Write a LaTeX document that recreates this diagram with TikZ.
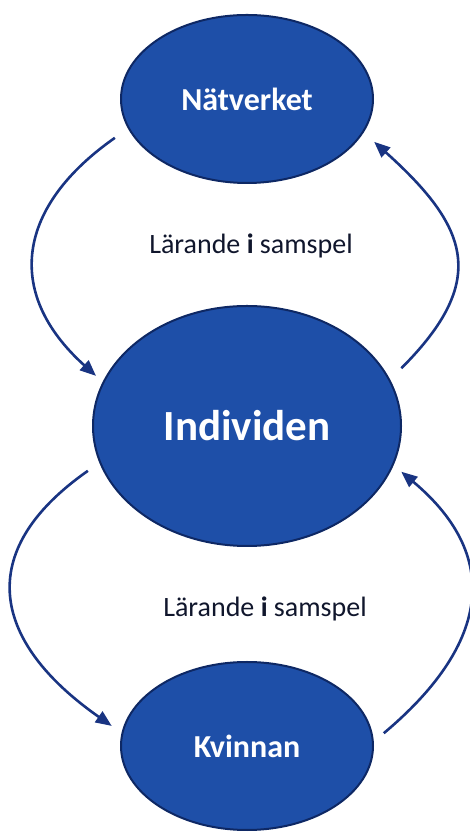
\documentclass[tikz,border=0pt]{standalone}
\usepackage{fontspec}
\setmainfont{Carlito}
\usetikzlibrary{positioning,shapes.geometric,arrows.meta}

\definecolor{ovalblue}{RGB}{30,79,168}
\definecolor{ovalline}{RGB}{14,40,100}
\definecolor{arrowblue}{RGB}{25,52,130}
\definecolor{labeltext}{RGB}{16,22,44}

\tikzstyle{lis-oval}=[ellipse,draw=ovalline,line width=2pt,fill=ovalblue,text=white,
  inner sep=0pt,minimum width=252pt,minimum height=168pt,
  font=\fontsize{32}{38}\selectfont\bfseries]
\tikzstyle{lis-oval-big}=[lis-oval,minimum width=308pt,minimum height=240pt,
  font=\fontsize{43}{50}\selectfont\bfseries]
\tikzstyle{lis-label}=[text=labeltext,font=\fontsize{28}{33}\selectfont]
\tikzstyle{lis-arrow}=[draw=arrowblue,line width=2.6pt,
  -{Triangle[length=16pt,width=13pt]}]

\begin{document}
\begin{tikzpicture}[x=1pt,y=1pt]
    \useasboundingbox (0,0) rectangle (470,832);
    \node[lis-oval-big] (indiv) at (247,406)                         {Individen};
    \node[lis-oval]     (natv)  [above of=indiv, node distance=327pt] {Nätverket};
    \node[lis-oval]     (kvin)  [below of=indiv, node distance=320pt] {Kvinnan};
    \node[lis-label]    (lbl-up)  at (251,586) {Lärande \textbf{i} samspel};
    \node[lis-label]    (lbl-dn)  at (265,223) {Lärande \textbf{i} samspel};
    \draw[lis-arrow, shorten <=16pt, shorten >=9pt]  (natv.194)  to [out=215,in=138,looseness=1.35] (indiv.163);
    \draw[lis-arrow, shorten <=16pt, shorten >=14pt] (indiv.18)  to [out=45,in=318,looseness=1.45]  (natv.344);
    \draw[lis-arrow, shorten <=14pt, shorten >=12pt] (indiv.194) to [out=215,in=145,looseness=1.48] (kvin.174);
    \draw[lis-arrow, shorten <=13pt, shorten >=10pt] (kvin.2)    to [out=40,in=320,looseness=1.35]  (indiv.345);
  \end{tikzpicture}
\end{document}
